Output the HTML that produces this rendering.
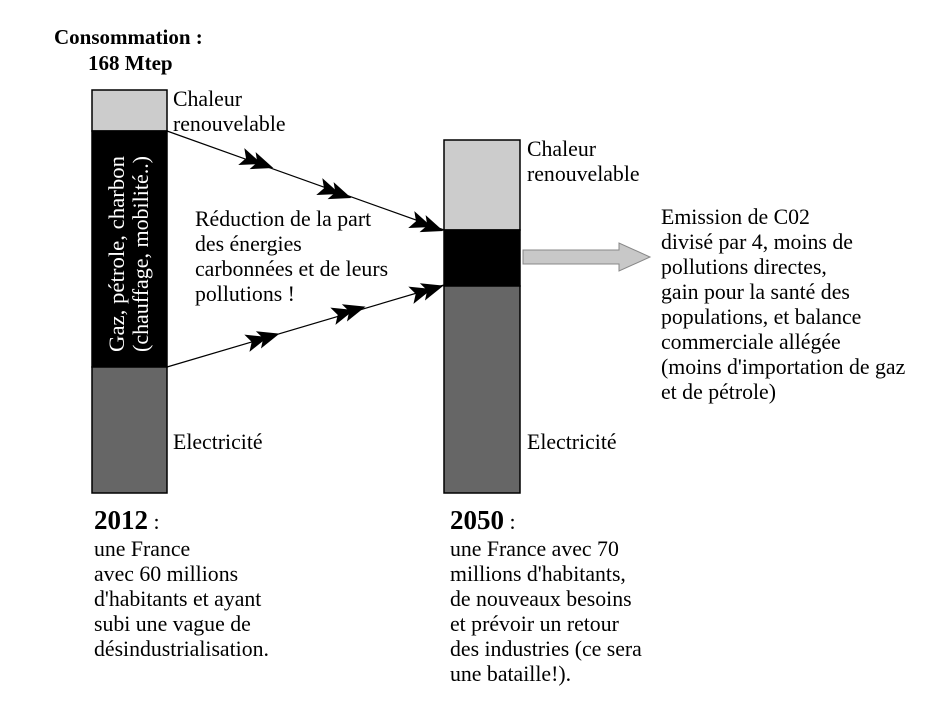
<!DOCTYPE html>
<html><head><meta charset="utf-8"><style>
body{margin:0;background:#fff;width:939px;height:721px;overflow:hidden;position:relative;font-family:"Liberation Serif",serif;color:#000}
.t{position:absolute;font-size:21.8px;line-height:25px;white-space:nowrap}
</style></head><body>
<svg width="939" height="721" style="position:absolute;left:0;top:0">
<rect x="92" y="90" width="75" height="41" fill="#cccccc" stroke="#000" stroke-width="1.5"/>
<rect x="92" y="131" width="75" height="236" fill="#000" stroke="#000" stroke-width="1.5"/>
<rect x="92" y="367" width="75" height="126" fill="#666" stroke="#000" stroke-width="1.5"/>
<rect x="444" y="140" width="76" height="90" fill="#cccccc" stroke="#000" stroke-width="1.5"/>
<rect x="444" y="230" width="76" height="56" fill="#000" stroke="#000" stroke-width="1.5"/>
<rect x="444" y="286" width="76" height="207" fill="#666" stroke="#000" stroke-width="1.5"/>
<g stroke="#000" stroke-width="1.2" fill="none">
<line x1="167" y1="131" x2="444" y2="230"/>
<line x1="167" y1="367" x2="444" y2="285"/>
</g>
<g fill="#000">
<g transform="translate(262,164) rotate(19.7)"><path d="M-22,-9 L0,0 L-22,9 L-17,0Z"/><path d="M-10,-9 L12,0 L-10,9 L-5,0Z"/></g>
<g transform="translate(340,194) rotate(19.7)"><path d="M-22,-9 L0,0 L-22,9 L-17,0Z"/><path d="M-10,-9 L12,0 L-10,9 L-5,0Z"/></g>
<g transform="translate(432,227) rotate(19.7)"><path d="M-22,-9 L0,0 L-22,9 L-17,0Z"/><path d="M-10,-9 L12,0 L-10,9 L-5,0Z"/></g>
<g transform="translate(268,337) rotate(-16.5)"><path d="M-22,-9 L0,0 L-22,9 L-17,0Z"/><path d="M-10,-9 L12,0 L-10,9 L-5,0Z"/></g>
<g transform="translate(354,310) rotate(-16.5)"><path d="M-22,-9 L0,0 L-22,9 L-17,0Z"/><path d="M-10,-9 L12,0 L-10,9 L-5,0Z"/></g>
<g transform="translate(432,289) rotate(-16.5)"><path d="M-22,-9 L0,0 L-22,9 L-17,0Z"/><path d="M-10,-9 L12,0 L-10,9 L-5,0Z"/></g>
</g>
<path d="M523,250 L619,250 L619,243 L650,257 L619,271 L619,264 L523,264 Z" fill="#c8c8c8" stroke="#888" stroke-width="1"/>
<text transform="translate(124,352) rotate(-90)" font-family="Liberation Serif" font-size="22" fill="#fff" textLength="196" lengthAdjust="spacingAndGlyphs">Gaz, pétrole, charbon</text>
<text transform="translate(148,352) rotate(-90)" font-family="Liberation Serif" font-size="22" fill="#fff" textLength="196" lengthAdjust="spacingAndGlyphs">(chauffage, mobilité..)</text>
</svg>
<div class="t" style="left:54px;top:25px;font-weight:bold;font-size:21px">Consommation :</div>
<div class="t" style="left:88px;top:51px;font-weight:bold;font-size:21px">168 Mtep</div>
<div class="t" style="left:173px;top:87px">Chaleur<br>renouvelable</div>
<div class="t" style="left:173px;top:430px">Electricité</div>
<div class="t" style="left:527px;top:137px">Chaleur<br>renouvelable</div>
<div class="t" style="left:527px;top:430px">Electricité</div>
<div class="t" style="left:195px;top:207px">Réduction de la part<br>des énergies<br>carbonnées et de leurs<br>pollutions !</div>
<div class="t" style="left:661px;top:205px">Emission de C02<br>divisé par 4, moins de<br>pollutions directes,<br>gain pour la santé des<br>populations, et balance<br>commerciale allégée<br>(moins d'importation de gaz<br>et de pétrole)</div>
<div class="t" style="left:94px;top:508px"><b style="font-size:27px">2012</b> :</div>
<div class="t" style="left:94px;top:537px">une France<br>avec 60 millions<br>d'habitants et ayant<br>subi une vague de<br>désindustrialisation.</div>
<div class="t" style="left:450px;top:508px"><b style="font-size:27px">2050</b> :</div>
<div class="t" style="left:450px;top:537px">une France avec 70<br>millions d'habitants,<br>de nouveaux besoins<br>et prévoir un retour<br>des industries (ce sera<br>une bataille!).</div>
</body></html>
